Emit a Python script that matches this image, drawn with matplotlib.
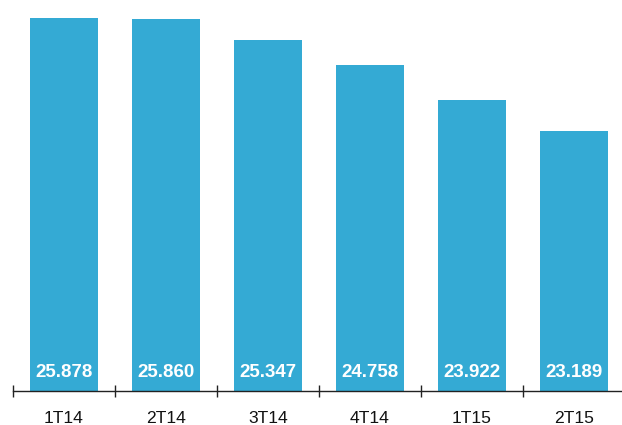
import numpy as np
import matplotlib
matplotlib.use("Agg")
import matplotlib.pyplot as plt
from matplotlib.ticker import FixedLocator

# 季度数据
quarters = ["1T14", "2T14", "3T14", "4T14", "1T15", "2T15"]
values = [25.878, 25.860, 25.347, 24.758, 23.922, 23.189]
value_labels = ["25.878", "25.860", "25.347", "24.758", "23.922", "23.189"]

bar_color = "#34aad4"
y_min = 17.0
px_per_unit = 41.96

plt.rcParams["font.family"] = ["Liberation Sans", "DejaVu Sans"]

fig = plt.figure(figsize=(6.22, 4.25), dpi=100)
ax_bottom = 34.5 / 425
ax_height = 390.5 / 425
ax = fig.add_axes([13 / 622, ax_bottom, 612 / 622, ax_height])

x = np.arange(len(quarters))
ax.bar(x, values, width=0.667, color=bar_color, bottom=0)
ax.set_xlim(-0.5, len(quarters) - 0.5)
ax.set_ylim(y_min, y_min + 390.5 / px_per_unit)

# 柱内数值标签
for i, lab in enumerate(value_labels):
    ax.annotate(lab, xy=(i, y_min), xytext=(0, 10.0), textcoords="offset points",
                ha="center", va="baseline", color="white", fontsize=13.5, fontweight="bold")

# 坐标轴样式
for s in ["top", "right", "left"]:
    ax.spines[s].set_visible(False)
ax.spines["bottom"].set_linewidth(1.0)
ax.spines["bottom"].set_color("#222222")
ax.set_yticks([])

ax.set_xticks(x)
ax.set_xticklabels(quarters, fontsize=12.6, color="#111111")
ax.tick_params(axis="x", which="major", length=0, pad=14.5)
ax.xaxis.set_minor_locator(FixedLocator(np.arange(-0.5, len(quarters) + 0.5, 1)))
ax.tick_params(axis="x", which="minor", direction="inout", length=8.6, width=1.0, color="#222222")

fig.savefig("out.png", dpi=100)
